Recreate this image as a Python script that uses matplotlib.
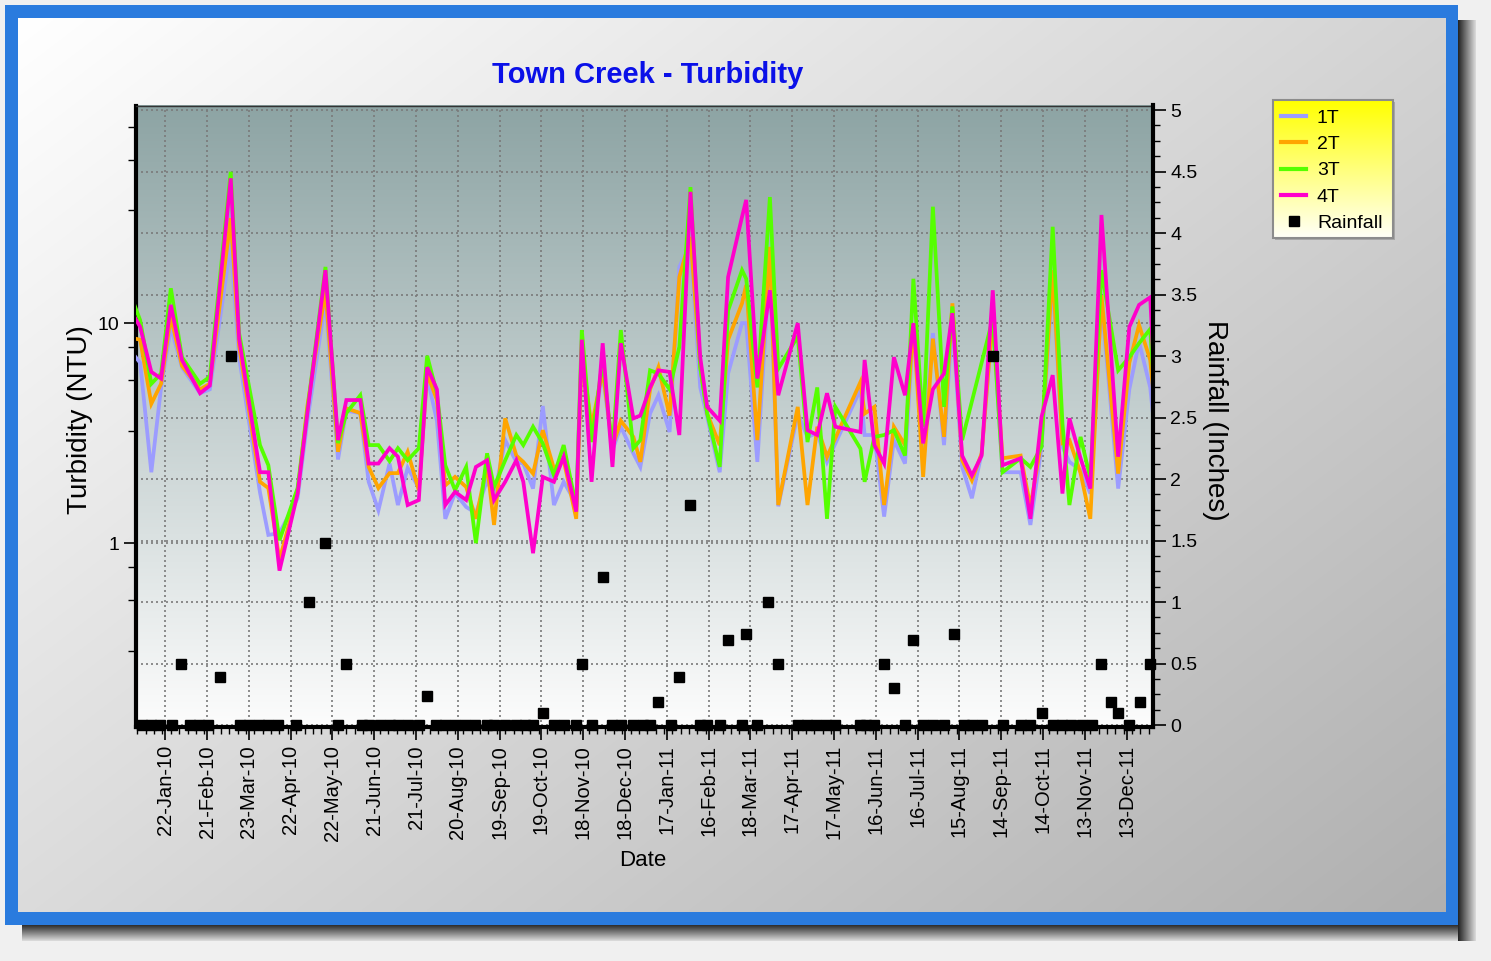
import numpy as np
import matplotlib
matplotlib.use("Agg")
import matplotlib.pyplot as plt
import matplotlib.dates as mdates
from matplotlib.patches import Rectangle
from matplotlib.lines import Line2D
from matplotlib.ticker import FixedLocator, NullFormatter, MultipleLocator, FuncFormatter
from matplotlib.transforms import blended_transform_factory

plt.rcParams['font.family'] = ['Liberation Sans', 'DejaVu Sans']

START = np.datetime64('2010-01-01')

# Sampling days (days after 1 Jan 2010)
sample_day = [-4, 3, 11, 18, 25, 33, 46, 53, 68, 74,
              89, 95, 103, 116, 123, 136, 145, 151, 161, 167,
              174, 182, 188, 195, 203, 209, 216, 222, 229, 237,
              244, 252, 257, 265, 273, 278, 285, 292, 300, 307,
              316, 320, 327, 335, 342, 348, 357, 362, 369, 375,
              383, 390, 398, 405, 410, 419, 425, 435, 438, 446,
              455, 461, 475, 482, 489, 496, 502, 520, 523, 530,
              537, 544, 552, 558, 565, 572, 580, 586, 593, 600,
              607, 615, 622, 635, 642, 650, 658, 665, 670, 678,
              685, 693, 705, 713, 720, 728, 733]

# Turbidity (NTU) at stations 1T-4T
turb_1t = [7.5, 6.6, 2.1, 5.1, 9.6, 6.3, 4.8, 5.0, 23, 7.0,
           1.7, 1.09, 1.11, 1.6, 3.6, 12.7, 2.4, 4.0, 3.9, 1.9,
           1.41, 2.3, 1.49, 2.2, 1.78, 5.7, 3.6, 1.29, 1.69, 1.46,
           1.37, 1.93, 1.62, 2.94, 2.34, 2.3, 1.77, 4.2, 1.49, 1.9,
           1.51, 7.8, 3.16, 5.9, 2.65, 3.38, 2.56, 2.22, 3.88, 4.7,
           3.2, 18, 23, 5.1, 3.75, 2.1, 5.9, 10, 10, 2.34,
           19, 1.47, 3.88, 3.04, 3.16, 2.34, 2.84, 5.0, 3.1, 3.1,
           1.32, 2.94, 2.3, 9.6, 2.56, 9.0, 2.79, 10.3, 2.22, 1.6,
           2.56, 10.3, 2.1, 2.1, 1.21, 2.74, 16.2, 2.74, 2.34, 2.15,
           1.68, 12.7, 1.77, 5.0, 8.2, 5.1, 2.5]
turb_2t = [8.6, 8.4, 4.3, 5.3, 10.7, 6.4, 5.0, 5.3, 30, 7.9,
           1.9, 1.78, 0.84, 1.7, 4.2, 14.1, 2.6, 4.1, 3.9, 2.22,
           1.78, 2.08, 2.08, 2.6, 1.74, 5.9, 4.47, 1.83, 2.0, 1.8,
           1.29, 2.26, 1.21, 3.69, 2.5, 2.34, 2.07, 3.26, 2.18, 2.38,
           1.29, 7.3, 3.38, 6.1, 2.74, 3.6, 3.04, 2.34, 5.0, 6.3,
           3.8, 16.2, 24.6, 6.3, 3.88, 2.79, 8.4, 12.3, 14.9, 2.94,
           22.2, 1.49, 4.16, 1.49, 3.38, 2.47, 3.0, 5.4, 3.88, 4.16,
           1.49, 3.38, 2.79, 10, 2.0, 8.5, 3.04, 12.3, 2.38, 1.93,
           2.56, 10.7, 2.43, 2.5, 1.46, 2.94, 17.4, 2.85, 2.94, 2.08,
           1.29, 13.4, 2.07, 6.6, 9.8, 6.8, 3.2]
turb_3t = [13.5, 10.3, 5.3, 5.9, 14.4, 7.0, 5.3, 5.7, 48.7, 9.0,
           2.79, 2.26, 1.03, 1.78, 4.0, 18, 2.85, 3.9, 4.7, 2.79,
           2.79, 2.36, 2.7, 2.38, 2.7, 7.1, 4.8, 2.26, 1.74, 2.22,
           1.0, 2.56, 1.8, 2.38, 3.1, 2.79, 3.38, 2.84, 2.03, 2.79,
           1.46, 9.3, 2.88, 6.8, 2.65, 9.3, 2.7, 2.94, 6.1, 5.9,
           5.0, 7.8, 41.5, 6.3, 3.88, 2.22, 11.4, 17.4, 15.9, 5.1,
           37.4, 6.2, 8.7, 2.88, 5.1, 1.29, 4.16, 2.69, 1.9, 3.04,
           3.1, 3.26, 2.5, 15.9, 3.38, 33.8, 4.16, 11.9, 2.94, np.nan,
           np.nan, 10.5, 2.1, 2.43, 2.22, 2.74, 27.4, 3.5, 1.49, 3.04,
           1.97, 17.4, 6.1, 7.0, 8.1, 9.4, 3.0]
turb_4t = [11.5, 9.6, 6.0, 5.6, 12.1, 6.8, 4.8, 5.2, 45.5, 8.5,
           2.1, 2.1, 0.75, 1.68, 3.9, 17.4, 2.94, 4.47, 4.47, 2.3,
           2.3, 2.7, 2.47, 1.49, 1.57, 6.3, 5.0, 1.49, 1.71, 1.57,
           2.22, 2.38, 1.57, 1.9, 2.38, 1.9, 0.9, 2.0, 1.9, 2.47,
           1.39, 8.4, 1.9, 8.1, 2.22, 8.1, 3.69, 3.8, 5.1, 6.1,
           6.0, 3.1, 39.5, 7.0, 4.16, 3.6, 16.2, 30.4, 36.3, 5.6,
           14.1, 4.7, 10, 3.26, 3.1, 4.8, 3.38, 3.2, 6.8, 2.79,
           2.3, 7.0, 4.7, 10, 2.84, 5.0, 5.9, 11.1, 2.5, 2.03,
           2.5, 14.1, 2.26, 2.43, 1.29, 3.75, 5.8, 1.68, 3.69, 2.43,
           1.77, 31, 2.47, 9.6, 12.1, 13.1, 3.0]

# Rainfall (inches) and the days it was recorded
rain_day = [4, 11, 17, 26, 32, 39, 45, 52, 60, 68,
            75, 81, 88, 95, 102, 115, 124, 136, 145, 151,
            162, 167, 175, 182, 188, 195, 203, 209, 215, 222,
            229, 236, 243, 252, 257, 265, 273, 279, 285, 292,
            300, 307, 316, 320, 327, 335, 342, 348, 357, 364,
            369, 375, 384, 390, 398, 405, 410, 419, 425, 435,
            438, 446, 454, 461, 475, 482, 488, 495, 502, 520,
            524, 530, 537, 544, 552, 558, 565, 572, 580, 587,
            594, 600, 607, 615, 622, 635, 642, 650, 658, 665,
            671, 679, 686, 693, 700, 705, 713, 721, 728]
rain_in = [0, 0, 0, 0, 0.5, 0, 0, 0, 0.39, 3.0,
           0, 0, 0, 0, 0, 0, 1.0, 1.48, 0, 0.5,
           0, 0, 0, 0, 0, 0, 0, 0.24, 0, 0,
           0, 0, 0, 0, 0, 0, 0, 0, 0, 0.1,
           0, 0, 0, 0.5, 0, 1.2, 0, 0, 0, 0,
           0, 0.19, 0, 0.39, 1.79, 0, 0, 0, 0.69, 0,
           0.74, 0, 1.0, 0.5, 0, 0, 0, 0, 0, 0,
           0, 0, 0.5, 0.3, 0, 0.69, 0, 0, 0, 0.74,
           0, 0, 0, 3.0, 0, 0, 0, 0.1, 0, 0,
           0, 0, 0, 0.5, 0.19, 0.1, 0, 0.19, 0.5]

series_names = ['1T', '2T', '3T', '4T']
series_colors = ['#9c9cff', '#ffa500', '#55ff00', '#ff00cc']
series_values = [turb_1t, turb_2t, turb_3t, turb_4t]

tick_first = np.datetime64('2010-01-22')
tick_step_days = 30
n_ticks = 24

W, H = 1491, 961
fig = plt.figure(figsize=(W / 100, H / 100), dpi=100)
fig.patch.set_facecolor('#f0f0f0')

# ---- decorative canvas (pixel coordinates) ----
bg = fig.add_axes([0, 0, 1, 1], zorder=-10)
bg.set_xlim(0, W)
bg.set_ylim(H, 0)
bg.axis('off')

shade = np.linspace(0.15, 0.85, 16)[:, None, None] * np.ones((1, 2, 3))
bg.imshow(shade, extent=(22, 1476, 941, 924), aspect='auto', interpolation='bilinear', zorder=0)
bg.imshow(np.transpose(shade, (1, 0, 2)), extent=(1458, 1476, 941, 20), aspect='auto',
          interpolation='bilinear', zorder=0)
bg.add_patch(Rectangle((5, 5), 1453, 920, facecolor='#2a7bde', edgecolor='none', zorder=1))

gx = np.linspace(0, 1, 300)[None, :]
gy = np.linspace(0, 1, 200)[:, None]
tpan = np.clip(0.55 * gx + 0.45 * gy, 0, 1)
c0 = np.array([1.0, 1.0, 1.0])
c1 = np.array([0.69, 0.69, 0.69])
panel = c0[None, None, :] * (1 - tpan[..., None]) + c1[None, None, :] * tpan[..., None]
bg.imshow(panel, extent=(18, 1446, 912, 18), aspect='auto', interpolation='bilinear', zorder=2)

# plot area gradient
pt = np.linspace(0, 1, 256)[:, None]
ctop = np.array([0.553, 0.643, 0.643])
cbot = np.array([0.99, 0.99, 0.99])
parea = ctop[None, None, :] * (1 - pt[..., None]) + cbot[None, None, :] * pt[..., None]
parea = np.repeat(parea, 2, axis=1)
bg.imshow(parea, extent=(136, 1153, 727, 105.5), aspect='auto', interpolation='bilinear', zorder=3)

# legend box
bg.add_patch(Rectangle((1275, 102), 120, 138, facecolor='#a8a8a8', edgecolor='none', zorder=4))
lt = np.linspace(0, 1, 128)[:, None]
ly0 = np.array([1.0, 1.0, 0.0])
ly1 = np.array([1.0, 1.0, 0.97])
lgrad = ly0[None, None, :] * (1 - lt[..., None]) + ly1[None, None, :] * lt[..., None]
lgrad = np.repeat(lgrad, 2, axis=1)
bg.imshow(lgrad, extent=(1273, 1393, 238, 100), aspect='auto', interpolation='bilinear', zorder=5)
bg.add_patch(Rectangle((1273, 100), 120, 138, facecolor='none', edgecolor='#8c8c8c', lw=1.5, zorder=6))

# ---- main axes ----
L, R, T, B = 136, 1153, 105.5, 727
rect = [L / W, 1 - B / H, (R - L) / W, (B - T) / H]
ax = fig.add_axes(rect)
ax.set_facecolor('none')
ax2 = ax.twinx()

x_left = START
x_right = START + np.timedelta64(730, 'D')
ax.set_xlim(x_left, x_right)
ax.set_yscale('log')
ax.set_ylim(0.146, 97.5)
ax2.set_ylim(-0.016, 5.037)

sample_dates = START + np.array(sample_day).astype('timedelta64[D]')
for name, col, vals in zip(series_names, series_colors, series_values):
    v = np.array(vals, dtype=float)
    m = ~np.isnan(v)
    ax.plot(sample_dates[m], v[m], color=col, lw=2.7, solid_joinstyle='miter', zorder=3)

rain_dates = START + np.array(rain_day).astype('timedelta64[D]')
ax2.plot(rain_dates, rain_in, linestyle='none', marker='s', markersize=6.5, color='black',
         clip_on=False, zorder=5)

# grid
dot = (0, (1.2, 1.8))
gcol = '#7a7a7a'
tick_dates = tick_first + np.arange(n_ticks) * np.timedelta64(tick_step_days, 'D')
ax.set_xticks(tick_dates)
ax.xaxis.set_major_formatter(mdates.DateFormatter('%d-%b-%y'))
minor_dates = START + np.arange(1, 731, 6).astype('timedelta64[D]')
ax.xaxis.set_minor_locator(FixedLocator(mdates.date2num(minor_dates)))
ax.grid(axis='x', which='major', linestyle=dot, color=gcol, lw=1.2, zorder=1)
ax.grid(axis='y', which='major', linestyle=dot, color=gcol, lw=1.2, zorder=1)
rain_grid = np.arange(0, 5.01, 0.5)
ax.hlines(rain_grid, 0, 1, transform=blended_transform_factory(ax.transAxes, ax2.transData),
          colors=gcol, linestyles=dot, lw=1.2, zorder=1)

ax.yaxis.set_major_locator(FixedLocator([0.1, 1, 10, 100]))
ax.yaxis.set_major_formatter(FuncFormatter(lambda v, p: f'{v:g}'))
ax.yaxis.set_minor_locator(FixedLocator([0.325, 0.55, 0.775, 3.25, 5.5, 7.75, 32.5, 55, 77.5]))
ax.yaxis.set_minor_formatter(NullFormatter())

ax2.set_yticks(rain_grid)
ax2.yaxis.set_major_formatter(FuncFormatter(lambda v, p: f'{v:g}'))
ax2.yaxis.set_minor_locator(MultipleLocator(0.125))

ax.tick_params(axis='x', which='major', labelrotation=90, labelsize=14.5, length=9,
               width=1.2, direction='out', pad=4)
ax.tick_params(axis='x', which='minor', length=5, width=1, direction='out')
ax.tick_params(axis='y', which='major', labelsize=14, length=9, width=1.2, direction='out', pad=3)
ax.tick_params(axis='y', which='minor', length=6, width=1, direction='out')
ax2.tick_params(axis='y', which='major', labelsize=14, length=9, width=1.2, direction='out')
ax2.tick_params(axis='y', which='minor', length=5, width=1, direction='out')

for s in ['left', 'bottom']:
    ax.spines[s].set_linewidth(3)
    ax.spines[s].set_color('black')
ax.spines['right'].set_visible(False)
ax.spines['top'].set_linewidth(1)
ax.spines['top'].set_color('#333333')
for s in ['left', 'bottom', 'top']:
    ax2.spines[s].set_visible(False)
ax2.spines['right'].set_linewidth(3)
ax2.spines['right'].set_color('black')

ax.set_ylabel('Turbidity (NTU)', fontsize=20, va='center')
ax.yaxis.set_label_coords((80 - L) / (R - L), (B - 420) / (B - T))
ax2.set_ylabel('Rainfall (Inches)', fontsize=20, rotation=270, va='center')
ax2.yaxis.set_label_coords((1215 - L) / (R - L), (B - 420) / (B - T))
ax.set_xlabel('Date', fontsize=16, va='center')
ax.xaxis.set_label_coords((643 - L) / (R - L), (B - 860) / (B - T))

fig.text(648 / W, 1 - 75 / H, 'Town Creek - Turbidity', fontsize=21, fontweight='bold',
         color='#0a10e8', ha='center', va='center')

handles = [Line2D([], [], color=c, lw=3) for c in series_colors]
handles.append(Line2D([], [], linestyle='none', marker='s', markersize=6.5, color='black'))
fig.legend(handles, series_names + ['Rainfall'], loc='upper left',
           bbox_to_anchor=(1281 / W, 1 - 109 / H), frameon=False, fontsize=14,
           handlelength=1.3, handletextpad=0.55, labelspacing=0.45, borderpad=0,
           borderaxespad=0)

fig.savefig('out.png', dpi=100, facecolor=fig.get_facecolor())
